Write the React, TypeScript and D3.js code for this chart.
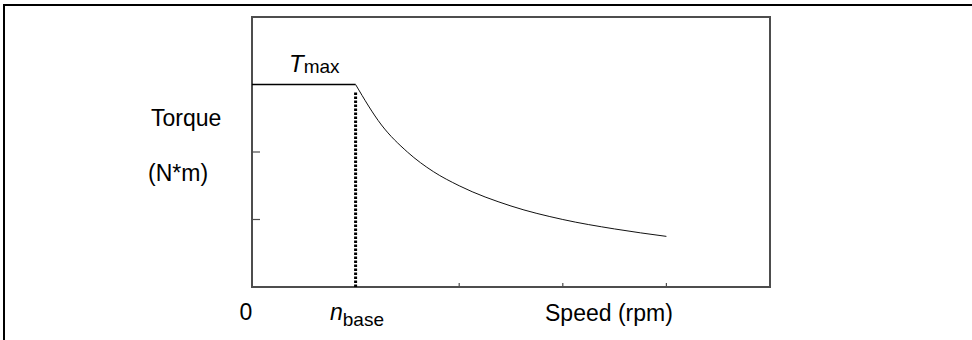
import React from "react";
import * as d3 from "d3";

// Data
const flatSpeed = [0, 1];
const flatTorque = [3, 3];
const curveSpeed = [1, 1.25, 1.5, 1.75, 2, 2.5, 3, 3.5, 4];
const curveTorque = [3, 2.4, 2.0, 1.71, 1.5, 1.2, 1.0, 0.86, 0.75];
const baseSpeed = 1;
const maxTorque = 3;
const xTicks = [2, 3, 4];
const yTicks = [1, 2];
const xDomain = [0, 5];
const yDomain = [0, 4];

const W = 972;
const H = 340;
const FONT = "'Liberation Sans', Arial, Helvetica, sans-serif";

export default function App() {
  const left = 252, right = 770, top = 17, bottom = 287;
  const x = d3.scaleLinear().domain(xDomain).range([left, right]);
  const y = d3.scaleLinear().domain(yDomain).range([bottom, top]);

  const line = d3
    .line<[number, number]>()
    .x((d) => x(d[0]))
    .y((d) => y(d[1]));
  const curveLine = d3
    .line<[number, number]>()
    .x((d) => x(d[0]))
    .y((d) => y(d[1]))
    .curve(d3.curveMonotoneX);

  const flatPts = flatSpeed.map((s, i) => [s, flatTorque[i]] as [number, number]);
  const curvePts = curveSpeed.map((s, i) => [s, curveTorque[i]] as [number, number]);

  return (
    <svg
      width={W}
      height={H}
      style={{ position: "absolute", left: 0, top: 0, background: "#fff" }}
      fontFamily={FONT}
    >
      {/* outer frame (top and left) */}
      <line x1={4} y1={5} x2={W} y2={5} stroke="#000" strokeWidth={2} />
      <line x1={4} y1={4} x2={4} y2={H} stroke="#000" strokeWidth={2} />

      {/* plot box */}
      <rect
        x={left}
        y={top}
        width={right - left}
        height={bottom - top}
        fill="none"
        stroke="#4d4d4d"
        strokeWidth={2}
      />

      {/* y ticks (inward) */}
      {yTicks.map((t) => (
        <line key={"y" + t} x1={left} x2={left + 8} y1={y(t)} y2={y(t)} stroke="#4d4d4d" strokeWidth={1.2} />
      ))}
      {/* x ticks (inward) */}
      {xTicks.map((t) => (
        <line key={"x" + t} x1={x(t)} x2={x(t)} y1={bottom} y2={bottom - 4} stroke="#4d4d4d" strokeWidth={1.2} />
      ))}

      {/* flat max torque segment */}
      <path d={line(flatPts) || ""} fill="none" stroke="#000" strokeWidth={1.5} />
      {/* constant power curve */}
      <path d={curveLine(curvePts) || ""} fill="none" stroke="#111" strokeWidth={1} />

      {/* base speed dotted line */}
      <line
        x1={x(baseSpeed)}
        x2={x(baseSpeed)}
        y1={y(maxTorque) + 8}
        y2={bottom}
        stroke="#000"
        strokeWidth={3}
        strokeDasharray="2.5 1.5"
      />

      {/* labels */}
      <text x={151} y={126} fontSize={23} fill="#000">Torque</text>
      <text x={148} y={181} fontSize={23} fill="#000">(N*m)</text>

      <text x={289} y={72} fontSize={24} fill="#000">
        <tspan fontStyle="italic">T</tspan>
        <tspan fontSize={19} dy={1}>max</tspan>
      </text>

      <text x={x(0) - 6} y={320} fontSize={23} fill="#000" textAnchor="middle">0</text>
      <text x={330} y={320} fontSize={23} fill="#000">
        <tspan fontStyle="italic">n</tspan>
        <tspan fontSize={19} dy={6}>base</tspan>
      </text>
      <text x={545} y={321} fontSize={23} fill="#000">Speed (rpm)</text>
    </svg>
  );
}
